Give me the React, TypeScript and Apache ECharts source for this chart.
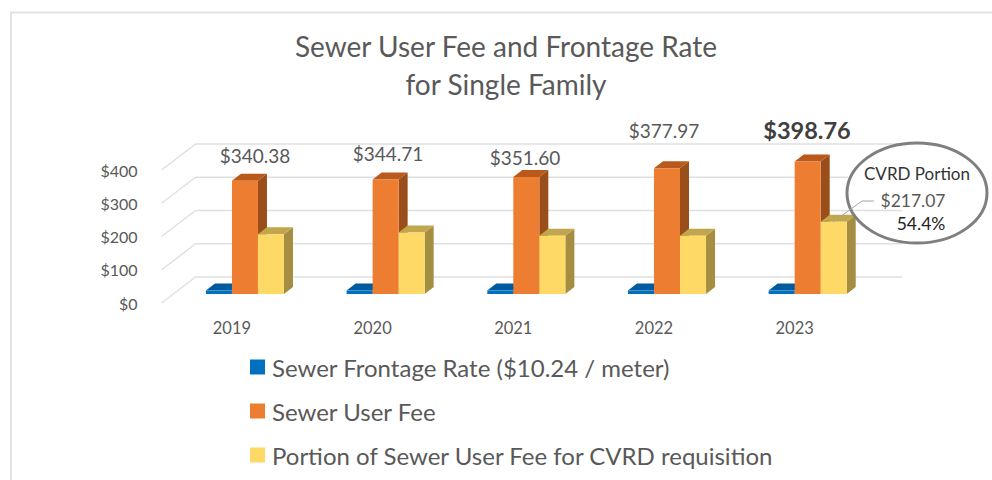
import React, { useEffect, useRef } from "react";
import * as echarts from "echarts";

const years = ["2019", "2020", "2021", "2022", "2023"];
const frontage = [10.24, 10.24, 10.24, 10.24, 10.24];
const userFee = [340.38, 344.71, 351.6, 377.97, 398.76];
const requisition = [180, 185, 175, 175, 217.07];
const ticks = [0, 100, 200, 300, 400];
const seriesNames = [
  "Sewer Frontage Rate ($10.24 / meter)",
  "Sewer User Fee",
  "Portion of Sewer User Fee for CVRD requisition",
];
const titleLines = "Sewer User Fee and Frontage Rate\nfor Single Family";
const share = "54.4%";
const FONT = "Lato, 'Open Sans', sans-serif";
const GREY = "#595959";

const money = (v: number) => "$" + v.toFixed(2);

function bar3d(index: number, front: string, top: string, side: string) {
  return (params: any, api: any) => {
    const cat = api.value(0);
    const val = api.value(1);
    const [cx, y0] = api.coord([cat, 0]);
    const [, y1] = api.coord([cat, val]);
    const band = api.size([1, 0])[0];
    const w = band * 0.185;
    const x0 = cx - w + index * w;
    const x1 = x0 + w;
    const yb = y0 - 9;
    const yt = y1 - 9;
    const dx = 9;
    const dy = 7;
    return {
      type: "group",
      children: [
        { type: "polygon", shape: { points: [[x1, yb], [x1 + dx, yb - dy], [x1 + dx, yt - dy], [x1, yt]] }, style: { fill: side } },
        { type: "polygon", shape: { points: [[x0, yt], [x0 + dx, yt - dy], [x1 + dx, yt - dy], [x1, yt]] }, style: { fill: top } },
        { type: "rect", shape: { x: x0, y: yt, width: w, height: yb - yt }, style: { fill: front } },
      ],
    };
  };
}

const wall = (params: any, api: any) => {
  const [, y] = api.coord([0, api.value(1)]);
  const cs = params.coordSys;
  return {
    type: "polyline",
    shape: { points: [[cs.x, y], [cs.x + 34, y - 26], [cs.x + cs.width + 37, y - 26]] },
    style: { fill: "none", stroke: "#e0e0e0", lineWidth: 1.5 },
  };
};

const makeBars = (name: string, values: number[], i: number, front: string, top: string, side: string) => ({
  type: "custom",
  name,
  coordinateSystem: "cartesian2d",
  clip: false,
  z: 3,
  encode: { x: 0, y: 1 },
  itemStyle: { color: front },
  renderItem: bar3d(i, front, top, side),
  data: values.map((v, k) => [k, v]),
});

const txt = (text: string, x: number, y: number, fontSize: number, fill: string, fontWeight: any = "normal") => ({
  type: "text",
  z: 20,
  x,
  y,
  style: { text, fontSize, fill, fontWeight, fontFamily: FONT, textAlign: "center", textVerticalAlign: "middle" },
});

export default function App() {
  const ref = useRef<HTMLDivElement>(null);
  useEffect(() => {
    const chart = echarts.init(ref.current!, null, { renderer: "svg" });
    chart.setOption({
      animation: false,
      backgroundColor: "#fff",
      title: {
        text: titleLines,
        left: 501,
        top: 22,
        textAlign: "center",
        textStyle: { fontFamily: FONT, fontSize: 28, fontWeight: "normal", color: GREY, lineHeight: 38 },
      },
      grid: { left: 161.6, right: 127, top: 170, bottom: 177 },
      xAxis: {
        type: "category",
        data: years,
        axisLine: { show: false },
        axisTick: { show: false },
        axisLabel: { color: GREY, fontFamily: FONT, fontSize: 16.5, margin: 16 },
      },
      yAxis: {
        type: "value",
        min: 0,
        max: 400,
        interval: 100,
        splitLine: { show: false },
        axisLine: { show: false },
        axisTick: { show: false },
        axisLabel: { color: GREY, fontFamily: FONT, fontSize: 16, margin: 24, formatter: (v: number) => "$" + v },
      },
      legend: {
        data: seriesNames,
        orient: "vertical",
        left: 250,
        top: 354,
        width: 720,
        height: 126,
        padding: 0,
        icon: "rect",
        itemWidth: 15,
        itemHeight: 15,
        itemGap: 18,
        selectedMode: false,
        textStyle: { color: GREY, fontFamily: FONT, fontSize: 24, lineHeight: 26, padding: [0, 0, 0, 2] },
      },
      series: [
        {
          type: "custom",
          name: "wall",
          coordinateSystem: "cartesian2d",
          clip: false,
          z: 1,
          encode: { x: 0, y: 1 },
          renderItem: wall,
          data: ticks.map((t) => [0, t]),
        },
        makeBars(seriesNames[0], frontage, 0, "#0070C0", "#005a9e", "#004b85"),
        makeBars(seriesNames[1], userFee, 1, "#ED7D31", "#b9591b", "#9a4e19"),
        makeBars(seriesNames[2], requisition, 2, "#FFD966", "#c2a64e", "#a58e41"),
      ],
      graphic: [
        { type: "polyline", z: 1, shape: { points: [[11, 480], [11, 12.5], [992, 12.5]] }, style: { fill: "none", stroke: "#e2e2e2", lineWidth: 2 } },
        { type: "rect", z: 10, shape: { x: 848, y: 171, width: 60, height: 12 }, style: { fill: "#fff" } },
        txt(money(userFee[0]), 255, 155, 19, GREY),
        txt(money(userFee[1]), 388, 153, 19, GREY),
        txt(money(userFee[2]), 525, 157, 19, GREY),
        txt(money(userFee[3]), 664, 130, 19, GREY),
        txt(money(userFee[4]), 807, 130, 23.5, "#404040", "bold"),
        { type: "ellipse", z: 15, shape: { cx: 917, cy: 193, rx: 70, ry: 50 }, style: { fill: "none", stroke: "#7f7f7f", lineWidth: 3 } },
        { type: "polyline", z: 16, shape: { points: [[833, 222], [862, 201], [874, 201]] }, style: { fill: "none", stroke: "#a6a6a6", lineWidth: 1 } },
        txt("CVRD Portion", 917, 173, 17, "#333333"),
        txt(money(requisition[4]), 913, 200, 17.5, GREY),
        txt(share, 921, 223, 17.5, "#222222"),
      ],
    });
    return () => chart.dispose();
  }, []);
  return <div ref={ref} style={{ position: "fixed", left: 0, top: 0, width: 992, height: 480 }} />;
}
